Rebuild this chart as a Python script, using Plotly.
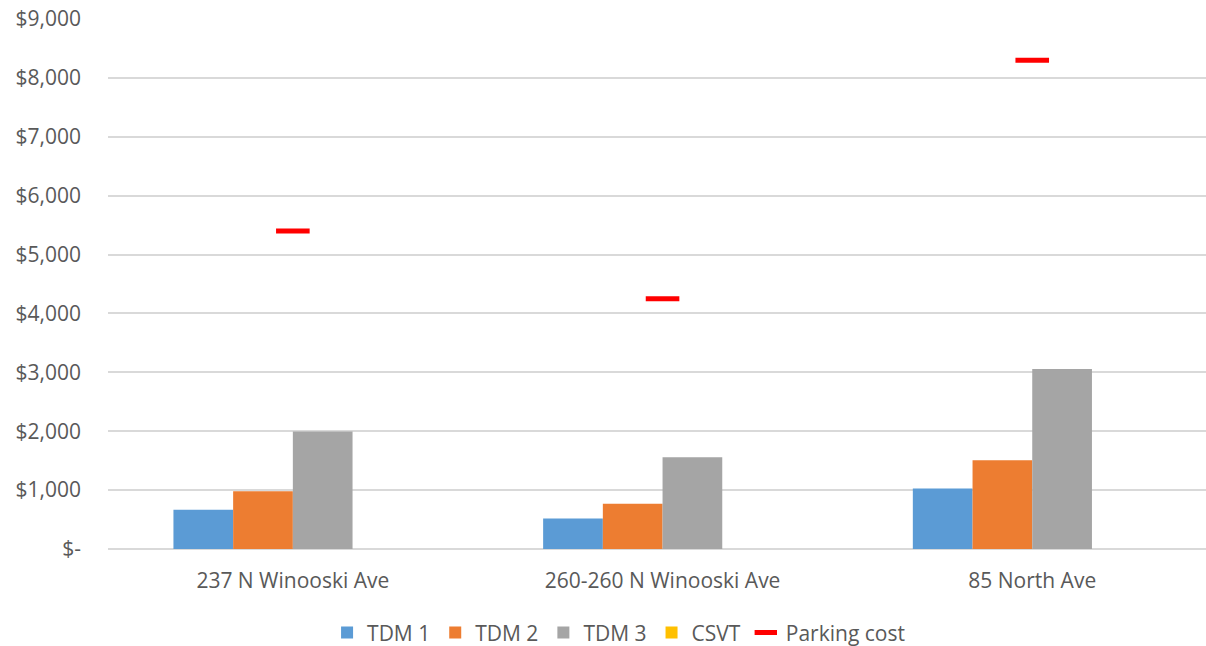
import plotly.graph_objects as go

categories = ["237 N Winooski Ave", "260-260 N Winooski Ave", "85 North Ave"]
tdm1 = [666, 518, 1027]
tdm2 = [981, 767, 1508]
tdm3 = [1995, 1559, 3058]
csvt = [0, 0, 0]
parking = [5402, 4248, 8299]

tick_vals = [0, 1000, 2000, 3000, 4000, 5000, 6000, 7000, 8000, 9000]
tick_text = ["$-", "$1,000", "$2,000", "$3,000", "$4,000", "$5,000",
             "$6,000", "$7,000", "$8,000", "$9,000"]

FONT = "Open Sans"
TXT = "#595959"
FS = 21

fig = go.Figure()
for name, vals, col in [("TDM 1", tdm1, "#5B9BD5"), ("TDM 2", tdm2, "#ED7D31"),
                        ("TDM 3", tdm3, "#A5A5A5"), ("CSVT", csvt, "#FFC000")]:
    fig.add_trace(go.Bar(x=categories, y=vals, name=name,
                         marker=dict(color=col, line=dict(width=0))))

fig.add_trace(go.Scatter(x=categories, y=parking, name="Parking cost", mode="markers",
                         marker=dict(symbol="line-ew", size=24,
                                     line=dict(color="#FF0000", width=5))))

fig.update_layout(
    width=1206, height=646,
    margin=dict(l=108, r=0, t=19, b=96.5, autoexpand=False),
    paper_bgcolor="white", plot_bgcolor="white",
    barmode="group", bargap=0.354, bargroupgap=0,
    font=dict(family=FONT, size=FS, color=TXT),
    showlegend=True,
    legend=dict(orientation="h", x=0.465, xanchor="center", y=-0.158, yanchor="middle",
                font=dict(family=FONT, size=FS, color=TXT), itemwidth=30,
                traceorder="normal", tracegroupgap=0),
    hovermode=False,
)
fig.update_xaxes(range=[-0.5, 2.47], showgrid=False, showline=False, ticks="",
                 ticklabelstandoff=17, tickfont=dict(size=FS, color=TXT))
fig.update_yaxes(range=[0, 9000], tickvals=tick_vals, ticktext=tick_text,
                 showgrid=True, gridcolor="#D9D9D9", gridwidth=1.5,
                 zeroline=True, zerolinecolor="#D9D9D9", zerolinewidth=1.5,
                 showline=False, ticks="", ticklabelstandoff=26,
                 tickfont=dict(size=FS, color=TXT))

fig.write_html("out.html")
